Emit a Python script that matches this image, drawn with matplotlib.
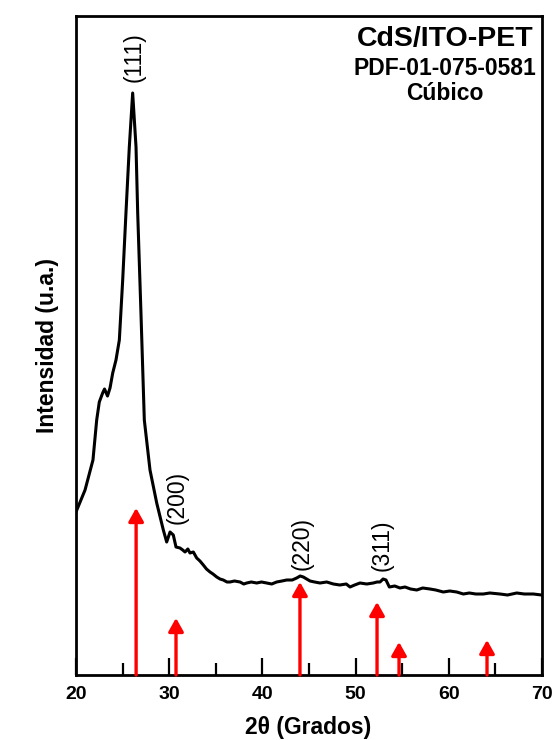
import matplotlib
matplotlib.use("Agg")
import matplotlib.pyplot as plt
from matplotlib.ticker import MultipleLocator

plt.rcParams['font.family'] = ['Liberation Sans', 'DejaVu Sans']

# Measured XRD pattern of CdS on ITO-PET (2-theta in degrees, intensity in a.u.)
two_theta = [
    20.00, 20.97, 21.82, 22.22, 22.50, 22.86, 23.06, 23.38, 23.65, 23.94,
    24.29, 24.65, 25.01, 25.36, 25.72, 26.08, 26.44, 26.62, 26.97, 27.33,
    27.94, 28.66, 29.37, 29.73, 30.09, 30.44, 30.73, 31.16, 31.45, 31.70,
    32.00, 32.23, 32.59, 32.95, 33.30, 33.66, 34.00, 34.38, 34.70, 35.10,
    35.45, 35.80, 36.20, 36.52, 37.00, 37.60, 38.00, 38.32, 38.80, 39.39,
    39.90, 40.46, 41.00, 41.53, 42.10, 42.61, 43.20, 43.68, 44.05, 44.39,
    44.75, 45.11, 45.60, 46.18, 46.90, 47.61, 48.30, 49.00, 49.40, 49.90,
    50.47, 51.20, 51.90, 52.30, 52.62, 52.95, 53.26, 53.62, 54.20, 54.76,
    55.30, 55.90, 56.56, 57.20, 57.98, 58.60, 59.41, 60.10, 60.85, 61.56,
    62.20, 62.90, 63.70, 64.40, 65.49, 66.30, 67.29, 68.10, 69.07, 69.95,
]
intensity = [
    163, 185, 215, 255, 273, 282, 286, 279, 287, 302,
    315, 335, 395, 462, 528, 582, 528, 462, 362, 255,
    205, 172, 145, 133, 143, 140, 128, 127, 125, 123,
    126, 122, 123, 117, 114, 110, 106, 103, 101, 98,
    96, 95, 93, 93, 94, 93, 91, 92, 93, 92,
    93, 92, 91, 93, 94, 95, 95, 97, 99, 98,
    96, 94, 93, 92, 93, 91, 90, 91, 88, 90,
    92, 91, 92, 93, 93, 96, 95, 88, 89, 87,
    88, 86, 85, 87, 86, 85, 83, 84, 83, 81,
    82, 81, 81, 82, 81, 80, 82, 81, 81, 80,
]

# Reference pattern PDF 01-075-0581 (cubic CdS): line positions and heights
ref_positions = [26.45, 30.73, 44.03, 52.30, 54.66, 64.10]
ref_heights = [167, 57, 93, 73, 33, 35]

# Miller index labels (hkl, 2-theta, height)
hkl_labels = ['(111)', '(200)', '(220)', '(311)']
hkl_x = [26.20, 30.84, 44.25, 52.83]
hkl_y = [618, 178, 132, 130]

title_lines = ['CdS/ITO-PET', 'PDF-01-075-0581', 'Cúbico']

fig = plt.figure(figsize=(5.56, 7.40), dpi=100)
ax = fig.add_axes([76 / 556, 1 - 675 / 740, 466 / 556, 659 / 740])

ax.plot(two_theta, intensity, color='black', lw=2.2, solid_joinstyle='round')

for x, h in zip(ref_positions, ref_heights):
    ax.annotate('', xy=(x, h), xytext=(x, 0),
                arrowprops=dict(arrowstyle='-|>,head_length=0.8,head_width=0.45',
                                mutation_scale=10, color='#ff0000', lw=2.4,
                                shrinkA=0, shrinkB=0))

for lab, x, y in zip(hkl_labels, hkl_x, hkl_y):
    ax.text(x, y, lab, rotation=90, ha='center', va='center', fontsize=16.5)

ax.text(0.792, 0.965, title_lines[0], transform=ax.transAxes, ha='center',
        va='center', fontsize=20.5, fontweight='bold')
ax.text(0.792, 0.920, title_lines[1], transform=ax.transAxes, ha='center',
        va='center', fontsize=16.5, fontweight='bold')
ax.text(0.792, 0.883, title_lines[2], transform=ax.transAxes, ha='center',
        va='center', fontsize=16.5, fontweight='bold')

ax.set_xlim(20, 70)
ax.set_ylim(0, 659)
ax.xaxis.set_major_locator(MultipleLocator(10))
ax.xaxis.set_minor_locator(MultipleLocator(5))
ax.tick_params(axis='x', which='major', direction='in', length=12, width=1.6,
               pad=8, labelsize=14)
ax.tick_params(axis='x', which='minor', direction='in', length=8.5, width=1.6)
ax.tick_params(axis='y', left=False, labelleft=False)
for lbl in ax.get_xticklabels():
    lbl.set_fontweight('bold')
for sp in ax.spines.values():
    sp.set_linewidth(2.0)

ax.set_xlabel('2θ (Grados)', fontsize=16.5, fontweight='bold', va='center')
ax.xaxis.set_label_coords(0.498, -0.079)
ax.set_ylabel('Intensidad (u.a.)', fontsize=16.5, fontweight='bold', va='center')
ax.yaxis.set_label_coords(-0.062, 0.5)

fig.savefig('out.png', dpi=100)
